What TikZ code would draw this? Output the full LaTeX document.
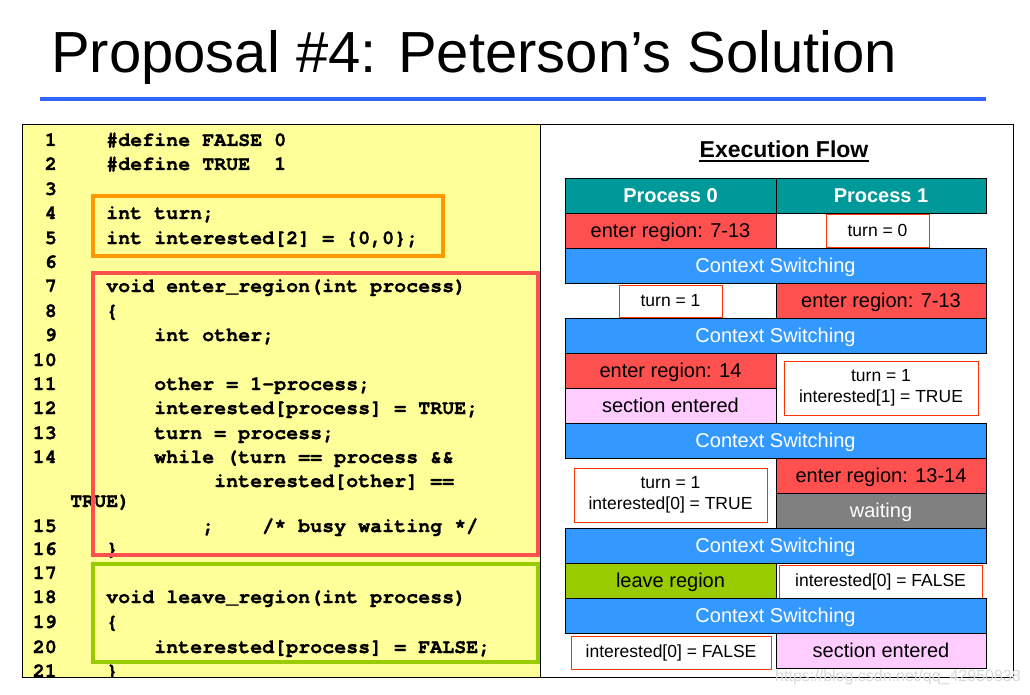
\documentclass[tikz,border=0pt]{standalone}
\usepackage{fontspec}
\setmainfont{Liberation Sans}
\newfontfamily\codefont{TeX Gyre Cursor}[Ligatures={NoCommon}, BoldFeatures={FakeBold=1.2}]
\definecolor{codebg}{HTML}{FFFF99}
\definecolor{titleblue}{HTML}{3366FF}
\definecolor{hlorange}{HTML}{FF9900}
\definecolor{hlred}{HTML}{FF5050}
\definecolor{hlgreen}{HTML}{99CC00}
\definecolor{headteal}{HTML}{009999}
\definecolor{cellred}{HTML}{FF5050}
\definecolor{csblue}{HTML}{3399FF}
\definecolor{cellpink}{HTML}{FFCCFF}
\definecolor{cellgreen}{HTML}{99CC00}
\definecolor{cellgray}{HTML}{808080}
\definecolor{valborder}{HTML}{FF3300}
\tikzset{
  code/.style={anchor=base west, inner sep=0pt, font=\codefont\bfseries\fontsize{20}{24}\selectfont},
  lnum/.style={anchor=base east, inner sep=0pt, font=\codefont\bfseries\fontsize{20}{24}\selectfont},
  hlbox/.style={line width=3.5pt},
  cell/.style={draw=black, line width=1pt, inner sep=0pt, text height=14pt, text depth=0.5pt, font=\fontsize{20}{24}\selectfont},
  lcell/.style={cell, minimum width=211pt, minimum height=35pt},
  rcell/.style={cell, minimum width=210pt, minimum height=35pt},
  fcell/.style={cell, minimum width=421pt, minimum height=35pt, fill=csblue, text=white},
  valbox/.style={draw=valborder, line width=0.9pt, fill=white, inner sep=0pt, align=center, font=\fontsize{17.5}{21}\selectfont},
}
\begin{document}
\begin{tikzpicture}[x=1pt,y=-1pt]
\useasboundingbox (0,0) rectangle (1030,695);
\fill[white] (0,0) rectangle (1030,695);
% title
\node[anchor=base west, inner sep=0pt, font=\fontsize{58}{64}\selectfont] (title) at (51,73) {Proposal \#4: Peterson’s Solution};
\draw[titleblue, line width=3.5pt] (40,99) coordinate (tl) -- (986,99) coordinate (tr);
% panels
\draw[black, line width=1pt, fill=codebg] (22,125) rectangle (540,677);
\draw[black, line width=1pt] (540,125) rectangle (1013,677);
% code
\begin{scope}
\clip (22.5,125.5) rectangle (539.5,676.5);
\node[lnum] (n1) at (57,146) {1};
\node[lnum] (n2) at (57,170) {2};
\node[lnum] (n3) at (57,195) {3};
\node[lnum] (n4) at (57,219) {4};
\node[lnum] (n5) at (57,244) {5};
\node[lnum] (n6) at (57,268) {6};
\node[lnum] (n7) at (57,292) {7};
\node[lnum] (n8) at (57,317) {8};
\node[lnum] (n9) at (57,341) {9};
\node[lnum] (n10) at (57,366) {10};
\node[lnum] (n11) at (57,390) {11};
\node[lnum] (n12) at (57,414) {12};
\node[lnum] (n13) at (57,439) {13};
\node[lnum] (n14) at (57,463) {14};
\node[lnum] (n15) at (57,532) {15};
\node[lnum] (n16) at (57,555) {16};
\node[lnum] (n17) at (57,579) {17};
\node[lnum] (n18) at (57,603) {18};
\node[lnum] (n19) at (57,628) {19};
\node[lnum] (n20) at (57,653) {20};
\node[lnum] (n21) at (57,677) {21};
\node[code] (c1) at (106,146) {\#define FALSE 0};
\node[code] (c2) at (106,170) {\#define TRUE~~1};
\node[code] (c4) at (106,219) {int turn;};
\node[code] (c5) at (106,244) {int interested[2] = \{0,0\};};
\node[code] (c7) at (106,292) {void enter\_region(int process)};
\node[code] (c8) at (106,317) {\{};
\node[code] (c9) at (154,341) {int other;};
\node[code] (c11) at (154,390) {other = 1-process;};
\node[code] (c12) at (154,414) {interested[process] = TRUE;};
\node[code] (c13) at (154,439) {turn = process;};
\node[code] (c14) at (154,463) {while (turn == process \&\&};
\node[code] (c14b) at (214,487) {interested[other] ==};
\node[code] (c14c) at (70,507) {TRUE)};
\node[code] (c15) at (202,532) {;~~~~/* busy waiting */};
\node[code] (c16) at (106,555) {\}};
\node[code] (c18) at (106,603) {void leave\_region(int process)};
\node[code] (c19) at (106,628) {\{};
\node[code] (c20) at (154,653) {interested[process] = FALSE;};
\node[code] (c21) at (106,677) {\}};
\end{scope}
% highlight boxes
\draw[hlbox, hlorange] (93,196) rectangle (443,256);
\draw[hlbox, hlred] (93,273) rectangle (538,555);
\draw[hlbox, hlgreen] (93,564) rectangle (538,662);
% execution flow
\node[anchor=base, inner sep=0pt, font=\bfseries\fontsize{23}{28}\selectfont] (ef) at (784,158) {Execution Flow};
\draw[line width=1.3pt] ([yshift=-3pt]ef.base west) -- ([yshift=-3pt]ef.base east);
% table
\node[lcell, minimum height=34pt, fill=headteal, text=white, font=\bfseries\fontsize{20}{24}\selectfont] (h0) at (670.5,196) {Process 0};
\node[rcell, minimum height=34pt, fill=headteal, text=white, font=\bfseries\fontsize{20}{24}\selectfont] (h1) at (881,196) {Process 1};
\node[lcell, fill=cellred] (r2l) at (670.5,230.5) {enter region: 7-13};
\node[valbox, minimum width=103pt, minimum height=33pt] (v1) at (877.5,230.5) {turn = 0};
\node[fcell] (cs1) at (775.5,265.5) {Context Switching};
\node[valbox, minimum width=103pt, minimum height=32pt] (v2) at (670.5,301) {turn = 1};
\node[rcell, fill=cellred] (r4r) at (881,300.5) {enter region: 7-13};
\node[fcell] (cs2) at (775.5,335.5) {Context Switching};
\node[lcell, fill=cellred] (r6a) at (670.5,370.5) {enter region: 14};
\node[lcell, fill=cellpink] (r6b) at (670.5,405.5) {section entered};
\node[valbox, minimum width=194pt, minimum height=54pt] (v3) at (881,388) {turn = 1\\interested[1] = TRUE};
\node[fcell] (cs3) at (775.5,440.5) {Context Switching};
\node[valbox, minimum width=193pt, minimum height=54pt] (v4) at (670.5,495) {turn = 1\\interested[0] = TRUE};
\node[rcell, fill=cellred] (r8a) at (881,475.5) {enter region: 13-14};
\node[rcell, fill=cellgray, text=white] (r8b) at (881,510.5) {waiting};
\node[fcell] (cs4) at (775.5,545.5) {Context Switching};
\node[lcell, fill=cellgreen] (r10) at (670.5,580.5) {leave region};
\node[valbox, minimum width=203pt, minimum height=34pt] (v5) at (880.5,582) {interested[0] = FALSE};
\node[fcell] (cs5) at (775.5,615.5) {Context Switching};
\node[valbox, minimum width=200pt, minimum height=33pt] (v6) at (671,652.5) {interested[0] = FALSE};
\node[rcell, fill=cellpink] (r12) at (881,650.5) {section entered};
% watermark
\node[inner sep=0pt, text=black!15, font=\fontsize{16}{18}\selectfont] (wm) at (898,677) {https://blog.csdn.net/qq\_42950838};
\end{tikzpicture}
\end{document}
